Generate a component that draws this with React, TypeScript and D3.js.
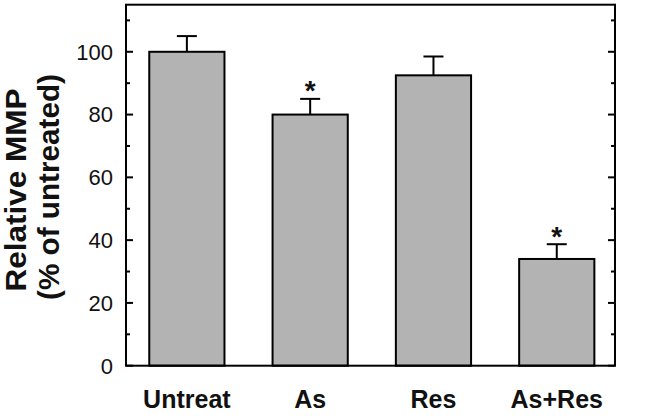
import React from "react";
import * as d3 from "d3";

const categories = ["Untreat", "As", "Res", "As+Res"];
const values = [100, 80, 92.5, 34];
const errors = [5, 5, 6, 4.7];
const significant = [false, true, false, true];
const yTicks = [0, 20, 40, 60, 80, 100];
const yMinorTicks = [10, 30, 50, 70, 90, 110];
const titleLines = ["Relative MMP", "(% of untreated)"];

const W = 646;
const H = 420;
const left = 126;
const right = 615;
const top = 4.7;
const bottom = 365.7;

export default function App() {
  React.useEffect(() => {
    document.body.style.margin = "0";
  }, []);

  const y = d3.scaleLinear().domain([0, 115]).range([bottom, top]);
  const x = d3
    .scaleBand<string>()
    .domain(categories)
    .range([left, right])
    .paddingInner(0.39)
    .paddingOuter(0.178)
    .align(0.53);
  const bw = x.bandwidth();
  const capW = 20;
  const font = "'Liberation Sans', Arial, sans-serif";

  return (
    <svg width={W} height={H} style={{ display: "block" }} fontFamily={font}>
      <rect x={0} y={0} width={W} height={H} fill="#fff" />
      {categories.map((c, i) => {
        const cx = (x(c) as number) + bw / 2;
        const yv = y(values[i]);
        const ye = y(values[i] + errors[i]);
        return (
          <g key={c}>
            <line x1={cx} x2={cx} y1={yv} y2={ye} stroke="#000" strokeWidth={2} />
            <line x1={cx - capW / 2} x2={cx + capW / 2} y1={ye} y2={ye} stroke="#000" strokeWidth={2} />
            <rect
              x={x(c)}
              y={yv}
              width={bw}
              height={bottom - yv}
              fill="#b3b3b3"
              stroke="#000"
              strokeWidth={2}
            />
            {significant[i] && (
              <text x={cx} y={ye + 1.5} textAnchor="middle" fontSize={28} fontWeight="bold" fill="#111">
                *
              </text>
            )}
            <text x={cx} y={408} textAnchor="middle" fontSize={25} fontWeight="bold" fill="#111">
              {c}
            </text>
          </g>
        );
      })}
      <rect x={left} y={top} width={right - left} height={bottom - top} fill="none" stroke="#000" strokeWidth={2} />
      {yTicks.map((t) => (
        <g key={"t" + t}>
          <line x1={left} x2={left + 7} y1={y(t)} y2={y(t)} stroke="#000" strokeWidth={2} />
          <line x1={right} x2={right - 7} y1={y(t)} y2={y(t)} stroke="#000" strokeWidth={2} />
          <text x={113} y={y(t)} dy="0.36em" textAnchor="end" fontSize={22} fill="#111">
            {t}
          </text>
        </g>
      ))}
      {yMinorTicks.map((t) => (
        <g key={"m" + t}>
          <line x1={left} x2={left + 4} y1={y(t)} y2={y(t)} stroke="#000" strokeWidth={2} />
          <line x1={right} x2={right - 4} y1={y(t)} y2={y(t)} stroke="#000" strokeWidth={2} />
        </g>
      ))}
      <text
        transform={`translate(26,190) rotate(-90)`}
        textAnchor="middle"
        fontSize={29}
        fontWeight="bold"
        fill="#111"
        textLength={203}
        lengthAdjust="spacingAndGlyphs"
      >
        {titleLines[0]}
      </text>
      <text
        transform={`translate(59,187) rotate(-90)`}
        textAnchor="middle"
        fontSize={29}
        fontWeight="bold"
        fill="#111"
        textLength={226}
        lengthAdjust="spacingAndGlyphs"
      >
        {titleLines[1]}
      </text>
    </svg>
  );
}
